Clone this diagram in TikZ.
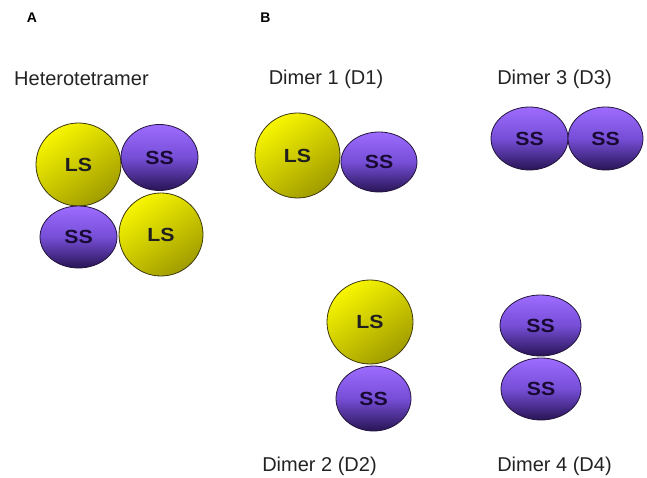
\documentclass[tikz,border=0pt]{standalone}
\usepackage{fontspec}
\setmainfont{Liberation Sans}
\usetikzlibrary{shapes.geometric}
\definecolor{lsTop}{RGB}{248,246,0}
\definecolor{lsBot}{RGB}{160,156,0}
\definecolor{lsLine}{RGB}{60,55,10}
\definecolor{ssTop}{RGB}{158,108,255}
\definecolor{ssMid}{RGB}{118,78,215}
\definecolor{ssBot}{RGB}{40,20,85}
\definecolor{ssLine}{RGB}{35,20,60}
\definecolor{ssText}{RGB}{25,10,50}
\definecolor{lblText}{RGB}{35,35,35}
\tikzset{
  lsball/.style={ellipse, inner sep=0pt, line width=0.8pt, draw=lsLine,
    top color=lsTop, bottom color=lsBot, shading angle=35,
    font=\fontsize{19}{21}\selectfont\bfseries, text=black!88},
  ssball/.style={ellipse, inner sep=0pt, line width=0.8pt, draw=ssLine,
    top color=ssTop, bottom color=ssBot, middle color=ssMid,
    font=\fontsize{19}{21}\selectfont\bfseries, text=ssText},
  title/.style={font=\fontsize{20}{24}\selectfont, text=lblText, anchor=base},
  panel/.style={font=\fontsize{14}{16}\selectfont\bfseries, text=black, anchor=base}
}
\newcommand{\wide}[1]{\scalebox{1.12}[1]{#1}}
\begin{document}
\begin{tikzpicture}[x=1pt,y=-1pt]
\useasboundingbox (0,0) rectangle (647,478);
% panel letters
\node[panel] (pa) at (32,22.7) {A};
\node[panel] (pb) at (265.5,22.7) {B};
% titles
\node[title, anchor=base west, inner sep=0pt] (tH) at (14,86) {Heterotetramer};
\node[title] (t1) at (326,85) {Dimer 1 (D1)};
\node[title] (t3) at (554.5,85) {Dimer 3 (D3)};
\node[title] (t2) at (319.5,471) {Dimer 2 (D2)};
\node[title] (t4) at (554.5,471) {Dimer 4 (D4)};
% A: heterotetramer
\node[lsball, minimum width=85pt, minimum height=83pt] (a1) at (78.5,164.5) {\wide{LS}};
\node[ssball, minimum width=77pt, minimum height=66pt] (a2) at (159.5,157.5) {\wide{SS}};
\node[ssball, minimum width=77pt, minimum height=62pt] (a3) at (78.5,237) {\wide{SS}};
\node[lsball, minimum width=84pt, minimum height=83pt] (a4) at (161,234.5) {\wide{LS}};
% D1
\node[lsball, minimum width=85pt, minimum height=85pt] (d1l) at (297.5,155.5) {\wide{LS}};
\node[ssball, minimum width=76pt, minimum height=60pt] (d1s) at (379,162) {\wide{SS}};
% D3
\node[ssball, minimum width=77pt, minimum height=63pt] (d3a) at (529.5,138.5) {\wide{SS}};
\node[ssball, minimum width=75pt, minimum height=63pt] (d3b) at (605.5,138.5) {\wide{SS}};
% D2
\node[lsball, minimum width=86pt, minimum height=84pt] (d2l) at (370,322) {\wide{LS}};
\node[ssball, minimum width=75pt, minimum height=65pt] (d2s) at (373.5,398.5) {\wide{SS}};
% D4
\node[ssball, minimum width=81pt, minimum height=61pt] (d4a) at (540.5,325.5) {\wide{SS}};
\node[ssball, minimum width=80pt, minimum height=62pt] (d4b) at (541,389) {\wide{SS}};
\end{tikzpicture}
\end{document}
